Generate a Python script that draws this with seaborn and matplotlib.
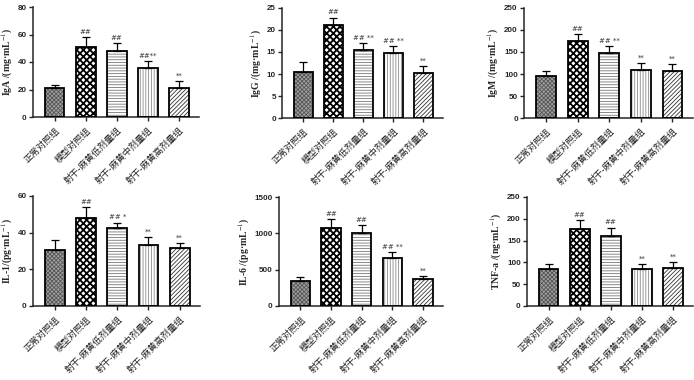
import numpy as np
import matplotlib
matplotlib.use("Agg")
import matplotlib.pyplot as plt
import seaborn as sns

# groups
groups = ["正常对照组", "模型对照组", "射干-麻黄低剂量组", "射干-麻黄中剂量组", "射干-麻黄高剂量组"]

# means and upper error (sd)
iga_mean = [21, 51, 48, 35.5, 21]
iga_sd = [2.5, 7, 6, 5, 5.5]
igg_mean = [10.4, 21.2, 15.5, 14.7, 10.2]
igg_sd = [2.3, 1.6, 1.5, 1.7, 1.6]
igm_mean = [96, 176, 147, 109, 106]
igm_sd = [10, 15, 16, 15, 16]
il1_mean = [30.5, 48, 42.5, 33.5, 31.5]
il1_sd = [5.5, 6, 3, 4, 3]
il6_mean = [340, 1080, 1005, 655, 370]
il6_sd = [55, 115, 105, 85, 45]
tnf_mean = [84, 176, 161, 84, 88]
tnf_sd = [12, 21, 19, 12, 13]

# significance marks
iga_sig = ["", "##", "##", "##**", "**"]
igg_sig = ["", "##", "## **", "## **", "**"]
igm_sig = ["", "##", "## **", "**", "**"]
il1_sig = ["", "##", "## *", "**", "**"]
il6_sig = ["", "##", "##", "## **", "**"]
tnf_sig = ["", "##", "##", "**", "**"]

ylabels = ["IgA /(mg·mL$^{-1}$)", "IgG /(mg·mL$^{-1}$)", "IgM /(mg·mL$^{-1}$)",
           "IL-1/(pg·mL$^{-1}$)", "IL-6 /(pg·mL$^{-1}$)", "TNF-a /(ng·mL$^{-1}$)"]
yticks = [[0, 20, 40, 60, 80], [0, 5, 10, 15, 20, 25], [0, 50, 100, 150, 200, 250],
          [0, 20, 40, 60], [0, 500, 1000, 1500], [0, 50, 100, 150, 200, 250]]

panels = [
    (iga_mean, iga_sd, iga_sig),
    (igg_mean, igg_sd, igg_sig),
    (igm_mean, igm_sd, igm_sig),
    (il1_mean, il1_sd, il1_sig),
    (il6_mean, il6_sd, il6_sig),
    (tnf_mean, tnf_sd, tnf_sig),
]

sns.set_style("ticks")
plt.rcParams["font.family"] = ["Liberation Sans", "Noto Sans CJK SC"]
plt.rcParams["hatch.linewidth"] = 0.7
plt.rcParams["mathtext.fontset"] = "stix"

# per group: face colour, hatch, hatch colour, hatch linewidth
styles = [("#a0a0a0", "xxxxxxxx", "#555555", 0.6),
          ("white", "xxxxx", "black", 1.3),
          ("white", "------", "#777777", 0.6),
          ("white", "||||||", "#8a8a8a", 0.6),
          ("white", "////////", "#333333", 0.6)]

W, H = 694, 380
fig = plt.figure(figsize=(W / 100, H / 100), dpi=100)

# axes boxes in pixels: left, right, top, bottom
boxes = [(33, 199, 7, 117), (282, 443, 8, 118), (524, 693, 8, 118),
         (33, 200, 196, 306), (279, 443, 197, 306), (527, 693, 197, 306)]

for (mean, sd, sig), box, ylab, yt in zip(panels, boxes, ylabels, yticks):
    l, r, t, b = box
    ax = fig.add_axes([l / W, 1 - b / H, (r - l) / W, (b - t) / H])
    sns.barplot(x=groups, y=mean, ax=ax, width=0.63, color="white",
                edgecolor="black", linewidth=0, saturation=1)
    for p, (fc, h, hc, hlw) in zip(ax.patches, styles):
        p.set_facecolor(fc)
        p.set_hatch(h)
        p.set_edgecolor(hc)
        p.set_linewidth(0)
        try:
            p.set_hatch_linewidth(hlw)
        except AttributeError:
            pass
    # black outline on top
    x = np.arange(len(groups))
    ax.bar(x, mean, width=0.63, fill=False, edgecolor="black", linewidth=1.3, zorder=3)
    ax.errorbar(x, mean, yerr=[np.zeros(len(sd)), sd], fmt="none", ecolor="black",
                elinewidth=0.9, capsize=2.6, capthick=0.9, zorder=2)
    ymax = yt[-1]
    for xi, m, s, lab in zip(x, mean, sd, sig):
        if lab:
            ax.text(xi, m + s + ymax * 0.02, lab, ha="center", va="bottom",
                    fontsize=5, color="#333333", family="DejaVu Sans")
    ax.set_ylim(0, ymax)
    ax.set_yticks(yt)
    ax.set_xlim(-0.7, 4.65)
    ax.set_ylabel(ylab, family="Liberation Serif", fontweight="bold", fontsize=7, labelpad=2)
    ax.set_xticks(x)
    ax.set_xticklabels(groups, rotation=45, ha="right", rotation_mode="anchor",
                       family="Noto Sans CJK SC", fontsize=6.6, fontweight="light",
                       color="#222222")
    for lab in ax.get_yticklabels():
        lab.set_fontweight("bold")
        lab.set_fontsize(5.8)
    ax.tick_params(axis="both", length=3, width=1, pad=1.5)
    ax.tick_params(axis="x", pad=3)
    sns.despine(ax=ax)
    for sp in ["left", "bottom"]:
        ax.spines[sp].set_linewidth(1.1)

fig.savefig("out.png", dpi=100)
